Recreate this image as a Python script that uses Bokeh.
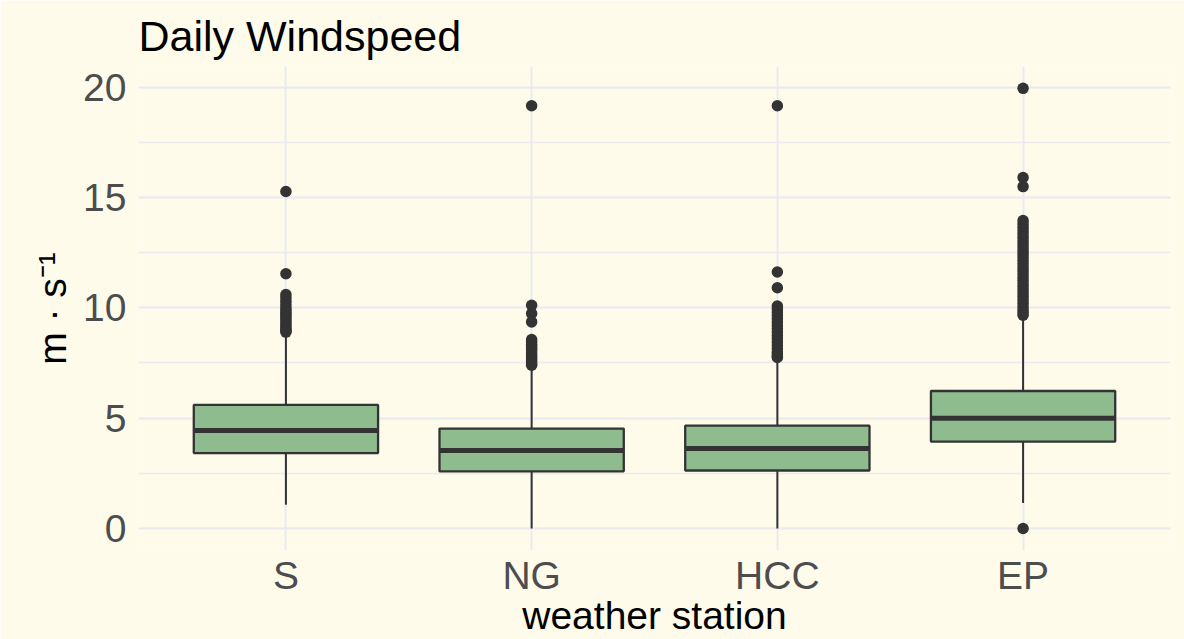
from bokeh.plotting import figure
from bokeh.models import FactorRange, ColumnDataSource, SingleIntervalTicker
from bokeh.transform import dodge
from bokeh.embed import file_html
from bokeh.resources import INLINE

# ---- data ----
stations = ["S", "NG", "HCC", "EP"]
q1 = [3.42, 2.59, 2.63, 3.94]
median = [4.44, 3.54, 3.63, 5.00]
q3 = [5.60, 4.53, 4.66, 6.23]
lower_whisker = [1.08, 0.0, 0.0, 1.16]
upper_whisker = [8.85, 7.32, 7.70, 9.62]

outliers_S = [15.27, 11.54, 10.60, 10.45, 10.30, 10.15, 10.00, 9.90, 9.80, 9.70,
              9.60, 9.50, 9.40, 9.30, 9.20, 9.10, 9.00, 8.95, 8.90]
outliers_NG = [19.15, 10.11, 9.74, 9.36, 8.56, 8.45, 8.35, 8.25, 8.15, 8.05, 7.95,
               7.85, 7.75, 7.65, 7.55, 7.45, 7.40]
outliers_HCC = [19.15, 11.62, 10.91, 10.08, 9.95, 9.80, 9.65, 9.50, 9.35, 9.20,
                9.05, 8.90, 8.75, 8.60, 8.45, 8.30, 8.15, 8.00, 7.90, 7.80, 7.75]
outliers_EP = [19.94, 15.90, 15.49, 13.95, 13.80, 13.65, 13.50, 13.35, 13.20, 13.05,
               12.90, 12.75, 12.60, 12.45, 12.30, 12.15, 12.00, 11.85, 11.70, 11.55,
               11.40, 11.25, 11.10, 10.95, 10.80, 10.65, 10.50, 10.35, 10.20, 10.05,
               9.90, 9.78, 9.66, 0.0]

y_ticks = [0, 5, 10, 15, 20]
title_text = "Daily Windspeed"

# ---- styling ----
BG = "#FEFBEA"
GRID = "#EBEBEF"
DARK = "#333333"
FILL = "#8FBC8F"
FONT = "Liberation Sans"

outlier_lists = [outliers_S, outliers_NG, outliers_HCC, outliers_EP]
out_x, out_y = [], []
for st, vals in zip(stations, outlier_lists):
    out_x += [st] * len(vals)
    out_y += vals

box_src = ColumnDataSource(dict(station=stations, q1=q1, median=median, q3=q3,
                                lo=lower_whisker, hi=upper_whisker))
out_src = ColumnDataSource(dict(station=out_x, y=out_y))

p = figure(width=1184, height=639, output_backend="svg", toolbar_location=None,
           x_range=FactorRange(*stations, range_padding=0.05, range_padding_units="percent"),
           y_range=(-0.995, 20.93),
           title=title_text,
           min_border_left=138, min_border_right=14, min_border_top=66, min_border_bottom=89)

p.background_fill_color = BG
p.border_fill_color = BG
p.outline_line_color = None

p.title.text_font = FONT
p.title.text_font_size = "43px"
p.title.text_font_style = "normal"
p.title.text_color = "black"
p.title.align = "left"
p.title.standoff = 14

# whiskers
p.segment(x0="station", x1="station", y0="q3", y1="hi", source=box_src,
          line_color=DARK, line_width=2)
p.segment(x0="station", x1="station", y0="q1", y1="lo", source=box_src,
          line_color=DARK, line_width=2)
# boxes
p.vbar(x="station", width=0.75, top="q3", bottom="q1", source=box_src,
       fill_color=FILL, line_color=DARK, line_width=2.3)
# medians
p.segment(x0=dodge("station", -0.375, range=p.x_range),
          x1=dodge("station", 0.375, range=p.x_range),
          y0="median", y1="median", source=box_src, line_color=DARK, line_width=5)
# outliers
p.scatter(x="station", y="y", source=out_src, size=11.5, fill_color=DARK,
          line_color=None)

# axes
for ax in (p.below[0], p.left[0]):
    ax.axis_line_color = None
    ax.major_tick_line_color = None
    ax.minor_tick_line_color = None
    ax.major_tick_out = 0
    ax.major_tick_in = 0
    ax.minor_tick_out = 0
    ax.minor_tick_in = 0
    ax.major_label_text_font = FONT
    ax.major_label_text_font_size = "39px"
    ax.major_label_text_color = "#4D4D4D"
    ax.axis_label_text_font = FONT
    ax.axis_label_text_font_size = "39px"
    ax.axis_label_text_font_style = "normal"
    ax.axis_label_text_color = "black"

xax = p.below[0]
yax = p.left[0]
xax.axis_label = "weather station"
yax.axis_label = "m \u00b7 s\u207b\u00b9"
xax.major_label_standoff = 3
xax.axis_label_standoff = -6
yax.major_label_standoff = 12
yax.axis_label_standoff = 6

yax.ticker = SingleIntervalTicker(interval=5, num_minor_ticks=2)

p.xgrid.grid_line_color = GRID
p.xgrid.grid_line_width = 2
p.ygrid.grid_line_color = GRID
p.ygrid.grid_line_width = 2.2
p.ygrid.minor_grid_line_color = GRID
p.ygrid.minor_grid_line_width = 1.3

open("out.html", "w").write(file_html(p, INLINE))
